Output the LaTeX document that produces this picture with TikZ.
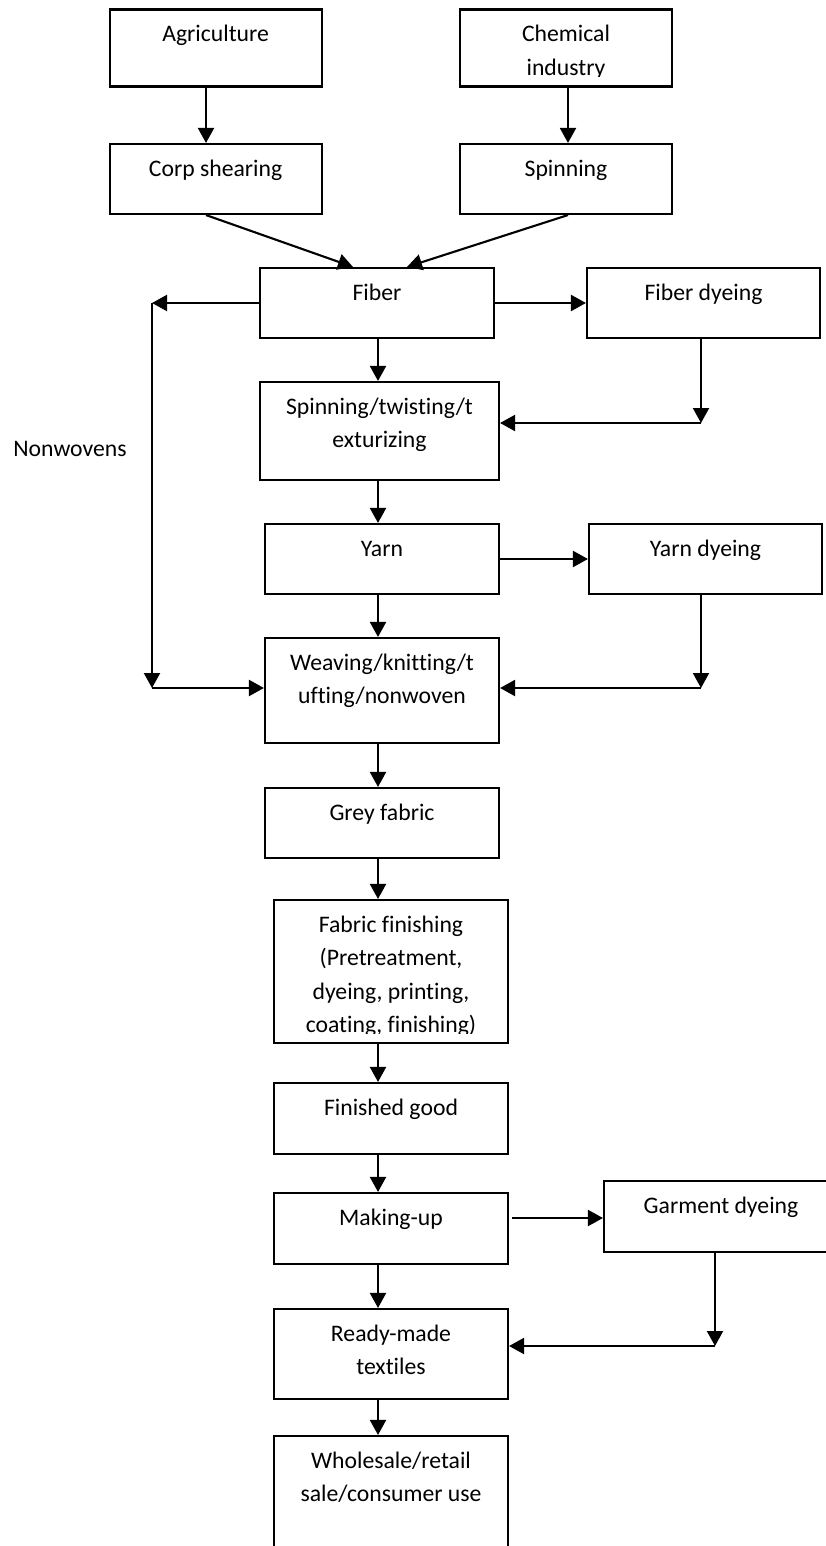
\documentclass[tikz,border=0pt]{standalone}
\usepackage{fontspec}
\setmainfont{Carlito}[Ligatures=NoCommon]
\usetikzlibrary{arrows.meta}

\begin{document}
\begin{tikzpicture}[x=1pt,y=-1pt,
  box/.style={draw,line width=2.1pt,inner sep=0pt},
  lbl/.style={anchor=base,align=center,inner sep=0pt,font=\fontsize{23.7}{33.5}\selectfont},
  arr/.style={line width=2.1pt,-{Triangle[length=15pt,width=16pt]}}]
\useasboundingbox (0,0) rectangle (825,1546);
% boxes
\node[box,minimum width=212,minimum height=77] (agri) at (215.6,48) {};
\node[box,minimum width=212,minimum height=77] (chem) at (566,48) {};
\node[box,minimum width=212,minimum height=70] (corp) at (215.6,179) {};
\node[box,minimum width=212,minimum height=70] (spin) at (566,179) {};
\node[box,minimum width=234,minimum height=70] (fiber) at (377,303) {};
\node[box,minimum width=233,minimum height=70] (fdye) at (703.5,303) {};
\node[box,minimum width=239,minimum height=98] (stt) at (379.5,431) {};
\node[box,minimum width=234,minimum height=70] (yarn) at (382,559) {};
\node[box,minimum width=233,minimum height=70] (ydye) at (705.5,559) {};
\node[box,minimum width=234,minimum height=105] (weave) at (382,690.5) {};
\node[box,minimum width=234,minimum height=70] (grey) at (382,823) {};
\node[box,minimum width=234,minimum height=143] (ffin) at (391,971.5) {};
\node[box,minimum width=234,minimum height=71] (fgood) at (391,1118.5) {};
\node[box,minimum width=234,minimum height=71] (makeup) at (391,1228.5) {};
\node[box,minimum width=234,minimum height=71] (gdye) at (721,1216.5) {};
\node[box,minimum width=234,minimum height=90] (ready) at (391,1354) {};
\node[box,minimum width=234,minimum height=130] (whole) at (391,1501) {};
% texts (base = last line)
\node[lbl] (agrit) at ([yshift=-33.5]agri.north) {Agriculture};
\begin{scope}
\clip ([yshift=11]chem.south west) rectangle (chem.north east);
\node[lbl] (chemt) at ([yshift=-67]chem.north) {Chemical\\industry};
\end{scope}
\node[lbl] (corpt) at ([yshift=-33.5]corp.north) {Corp shearing};
\node[lbl] (spint) at ([yshift=-33.5]spin.north) {Spinning};
\node[lbl] (fibert) at ([yshift=-33.5]fiber.north) {Fiber};
\node[lbl] (fdyet) at ([yshift=-33.5]fdye.north) {Fiber dyeing};
\node[lbl] (sttt) at ([yshift=-67]stt.north) {Spinning/twisting/t\\exturizing};
\node[lbl] (yarnt) at ([yshift=-33.5]yarn.north) {Yarn};
\node[lbl] (ydyet) at ([yshift=-33.5]ydye.north) {Yarn dyeing};
\node[lbl] (weavet) at ([yshift=-67]weave.north) {Weaving/knitting/t\\ufting/nonwoven};
\node[lbl] (greyt) at ([yshift=-33.5]grey.north) {Grey fabric};
\begin{scope}
\clip ([yshift=11]ffin.south west) rectangle (ffin.north east);
\node[lbl] (ffint) at ([yshift=-134]ffin.north) {Fabric finishing\\(Pretreatment,\\dyeing, printing,\\coating, finishing)};
\end{scope}
\node[lbl] (fgoodt) at ([yshift=-33.5]fgood.north) {Finished good};
\node[lbl] (makeupt) at ([yshift=-33.5]makeup.north) {Making-up};
\node[lbl] (gdyet) at ([yshift=-33.5]gdye.north) {Garment dyeing};
\node[lbl] (readyt) at ([yshift=-67]ready.north) {Ready-made\\textiles};
\node[lbl] (wholet) at ([yshift=-67]whole.north) {Wholesale/retail\\sale/consumer use};
\node[lbl] (nwlabel) at (70,456) {Nonwovens};
% connectors
\coordinate (spine) at (378,0);
\draw[arr] ([xshift=-9.6]agri.south) -- ([xshift=-9.6]corp.north);
\draw[arr] ([xshift=2]chem.south) -- ([xshift=2]spin.north);
\draw[arr] ([xshift=-9.6]corp.south) -- ([xshift=-24]fiber.north);
\draw[arr] ([xshift=2]spin.south) -- ([xshift=30]fiber.north);
\coordinate (nwtop) at (152,303);
\coordinate (nwbot) at (152,688);
\draw[arr] (fiber.west) -- (nwtop);
\draw[arr] (nwtop) -- (nwbot);
\draw[arr] (nwbot) -- (nwbot -| weave.west);
\draw[arr] (fiber.east) -- (fdye.west);
\coordinate (fdbot) at (701,423);
\draw[arr] (fdbot |- fdye.south) -- (fdbot);
\draw[arr] (fdbot) -- (fdbot -| stt.east);
\draw[arr] (fiber.south -| spine) -- (stt.north -| spine);
\draw[arr] (stt.south -| spine) -- (yarn.north -| spine);
\draw[arr] (yarn.east) -- (ydye.west);
\coordinate (ydbot) at (701,688);
\draw[arr] (ydbot |- ydye.south) -- (ydbot);
\draw[arr] (ydbot) -- (ydbot -| weave.east);
\draw[arr] (yarn.south -| spine) -- (weave.north -| spine);
\draw[arr] (weave.south -| spine) -- (grey.north -| spine);
\draw[arr] (grey.south -| spine) -- (ffin.north -| spine);
\draw[arr] (ffin.south -| spine) -- (fgood.north -| spine);
\draw[arr] (fgood.south -| spine) -- (makeup.north -| spine);
\coordinate (mgstart) at (512,1218);
\draw[arr] (mgstart) -- (mgstart -| gdye.west);
\draw[arr] (makeup.south -| spine) -- (ready.north -| spine);
\coordinate (gdbot) at (715,1346);
\draw[arr] (gdbot |- gdye.south) -- (gdbot);
\draw[arr] (gdbot) -- (gdbot -| ready.east);
\draw[arr] (ready.south -| spine) -- (whole.north -| spine);
\end{tikzpicture}
\end{document}
